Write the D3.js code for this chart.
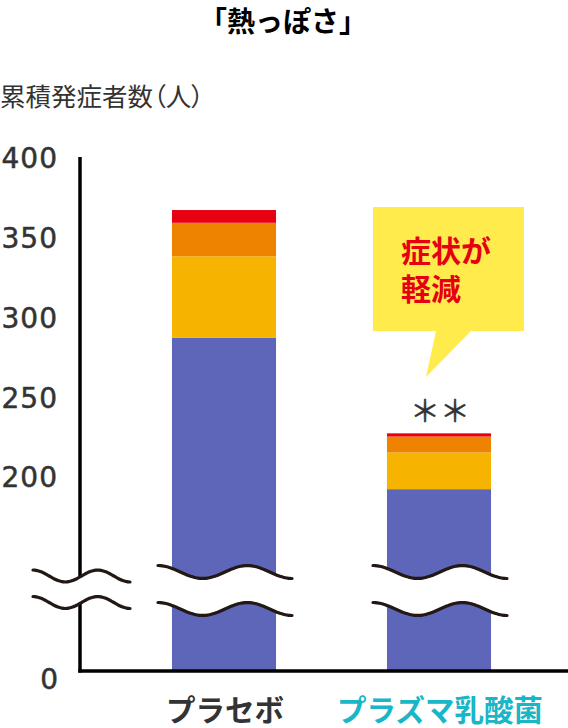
<!DOCTYPE html>
<html>
<head>
<meta charset="utf-8">
<script src="https://cdn.jsdelivr.net/npm/d3@7"></script>
<style>
  body { margin: 0; background: #fff; }
  svg { display: block; font-family: "Noto Sans CJK JP", sans-serif; }
</style>
</head>
<body>
<div id="chart"></div>
<script>
// data
var categories = ["プラセボ", "プラズマ乳酸菌"];
var seriesKeys = ["s1", "s2", "s3", "s4"];          // bottom -> top
var seriesColors = ["#5d66b9", "#f6b300", "#ee8300", "#e60012"];
var s1 = [288, 193];
var s2 = [51, 23];
var s3 = [21, 10];
var s4 = [8, 2];
var tickValues = [200, 250, 300, 350, 400];
var labelColors = ["#333333", "#1ab5c6"];
var title = "「熱っぽさ」";
var yLabel = "累積発症者数（人）";
var calloutLines = ["症状が", "軽減"];
var markText = "＊＊";

var width = 568, height = 728;
var svg = d3.select("#chart").append("svg")
    .attr("width", width).attr("height", height);

// table for stack
var table = categories.map(function(c, i) {
    return {cat: c, s1: s1[i], s2: s2[i], s3: s3[i], s4: s4[i]};
});
var stacked = d3.stack().keys(seriesKeys)(table);

// scales (broken axis: upper part for 200-400, lower part for 0)
var axisX = 80, baseY = 671;
var yTop = d3.scaleLinear().domain([200, 400]).range([478, 159]);
var yBottom = d3.scaleLinear().domain([0, 20]).range([baseY, 640]);
function y(v) { return v >= 100 ? yTop(v) : yBottom(v); }

var x = d3.scaleBand().domain(categories)
    .range([116.5, 546.5])
    .paddingInner(0.516).paddingOuter(0.258);

// bars
var layers = svg.append("g").selectAll("g")
    .data(stacked).enter().append("g")
    .attr("fill", function(d, i) { return seriesColors[i]; });
layers.selectAll("rect")
    .data(function(d) { return d; })
    .enter().append("rect")
    .attr("x", function(d) { return x(d.data.cat); })
    .attr("width", x.bandwidth())
    .attr("y", function(d) { return y(d[1]); })
    .attr("height", function(d) { return y(d[0]) - y(d[1]); });

// axes lines
svg.append("line").attr("x1", axisX).attr("x2", axisX)
    .attr("y1", yTop(400) - 2).attr("y2", baseY + 1.5)
    .attr("stroke", "#000").attr("stroke-width", 3.5);
svg.append("line").attr("x1", axisX - 1.75).attr("x2", width)
    .attr("y1", baseY).attr("y2", baseY)
    .attr("stroke", "#000").attr("stroke-width", 3.5);

// tick labels
var numFont = "'DejaVu Sans', sans-serif";
var yAxis = svg.append("g")
    .attr("transform", "translate(" + axisX + ",0)")
    .call(d3.axisLeft(yTop).tickValues(tickValues).tickSize(0).tickPadding(22));
yAxis.select(".domain").remove();
yAxis.selectAll("text")
    .attr("font-family", numFont)
    .attr("font-size", 28).attr("font-weight", 400)
    .attr("fill", "#333").attr("letter-spacing", 1)
    .attr("stroke", "#333").attr("stroke-width", 0.5);
svg.append("text")
    .attr("x", axisX - 22).attr("y", yBottom(0) + 9)
    .attr("dy", "0.32em")
    .attr("text-anchor", "end")
    .attr("font-family", numFont)
    .attr("font-size", 28).attr("fill", "#333")
    .attr("stroke", "#333").attr("stroke-width", 0.5)
    .text("0");

// break marks
function wave(cx, half, mid, amp, periods) {
    var x0 = cx - half, len = 2 * half;
    return d3.range(0, 61).map(function(k) {
        var t = k / 60;
        return [x0 + t * len, mid - amp * Math.cos(2 * Math.PI * periods * t)];
    });
}
var breaks = [
    {cx: axisX + 1.5, half: 48.5, top: 576, bottom: 602.5, amp: 6}
];
categories.forEach(function(c) {
    breaks.push({cx: x(c) + x.bandwidth() / 2 + 1, half: 67, top: 572, bottom: 609, amp: 6.5});
});
var line = d3.line().curve(d3.curveBasis);
var brk = svg.append("g");
breaks.forEach(function(b) {
    var up = wave(b.cx, b.half, b.top, b.amp, 1.5);
    var lo = wave(b.cx, b.half, b.bottom, b.amp, 1.5);
    brk.append("path")
        .attr("d", d3.line()(up.concat(lo.slice().reverse())) + "Z")
        .attr("fill", "#fff");
    [up, lo].forEach(function(p) {
        brk.append("path").attr("d", line(p))
            .attr("fill", "none").attr("stroke", "#231815")
            .attr("stroke-width", 3.2).attr("stroke-linecap", "round");
    });
});

// category labels
svg.append("g").selectAll("text")
    .data(categories).enter().append("text")
    .attr("x", function(d) { return x(d) + x.bandwidth() / 2 + 1; })
    .attr("y", 721)
    .attr("text-anchor", "middle")
    .attr("font-size", 29.5).attr("font-weight", 700)
    .attr("fill", function(d, i) { return labelColors[i]; })
    .text(function(d) { return d; });

// title + y label
svg.append("text").attr("x", 283).attr("y", 32)
    .attr("text-anchor", "middle")
    .attr("font-size", 28).attr("font-weight", 700).attr("fill", "#000")
    .text(title);
svg.append("text").attr("x", 0).attr("y", 106)
    .attr("font-size", 25.5).attr("font-weight", 400).attr("fill", "#333")
    .style("font-feature-settings", "'palt'")
    .text(yLabel);

// significance mark above second bar
var c2 = categories[1];
svg.append("text")
    .attr("x", x(c2) + x.bandwidth() / 2 + 1)
    .attr("y", y(d3.sum(seriesKeys, function(k) { return table[1][k]; })) - 11)
    .attr("text-anchor", "middle")
    .attr("font-size", 30).attr("fill", "#333")
    .attr("stroke", "#333").attr("stroke-width", 0.4)
    .text(markText);

// callout
var cx0 = 373, cy0 = 207, cw = 151, ch = 124;
var callout = svg.append("g");
callout.append("path")
    .attr("d", "M" + cx0 + "," + cy0 + "h" + cw + "v" + ch + "H471L426,377L436," + (cy0 + ch) + "H" + cx0 + "Z")
    .attr("fill", "#ffec4c");
var ct = callout.append("text")
    .attr("x", 401).attr("y", 262)
    .attr("font-size", 30).attr("font-weight", 700).attr("fill", "#e60012");
ct.selectAll("tspan")
    .data(calloutLines).enter().append("tspan")
    .attr("x", 401)
    .attr("dy", function(d, i) { return i === 0 ? 0 : 38; })
    .text(function(d) { return d; });
</script>
</body>
</html>
